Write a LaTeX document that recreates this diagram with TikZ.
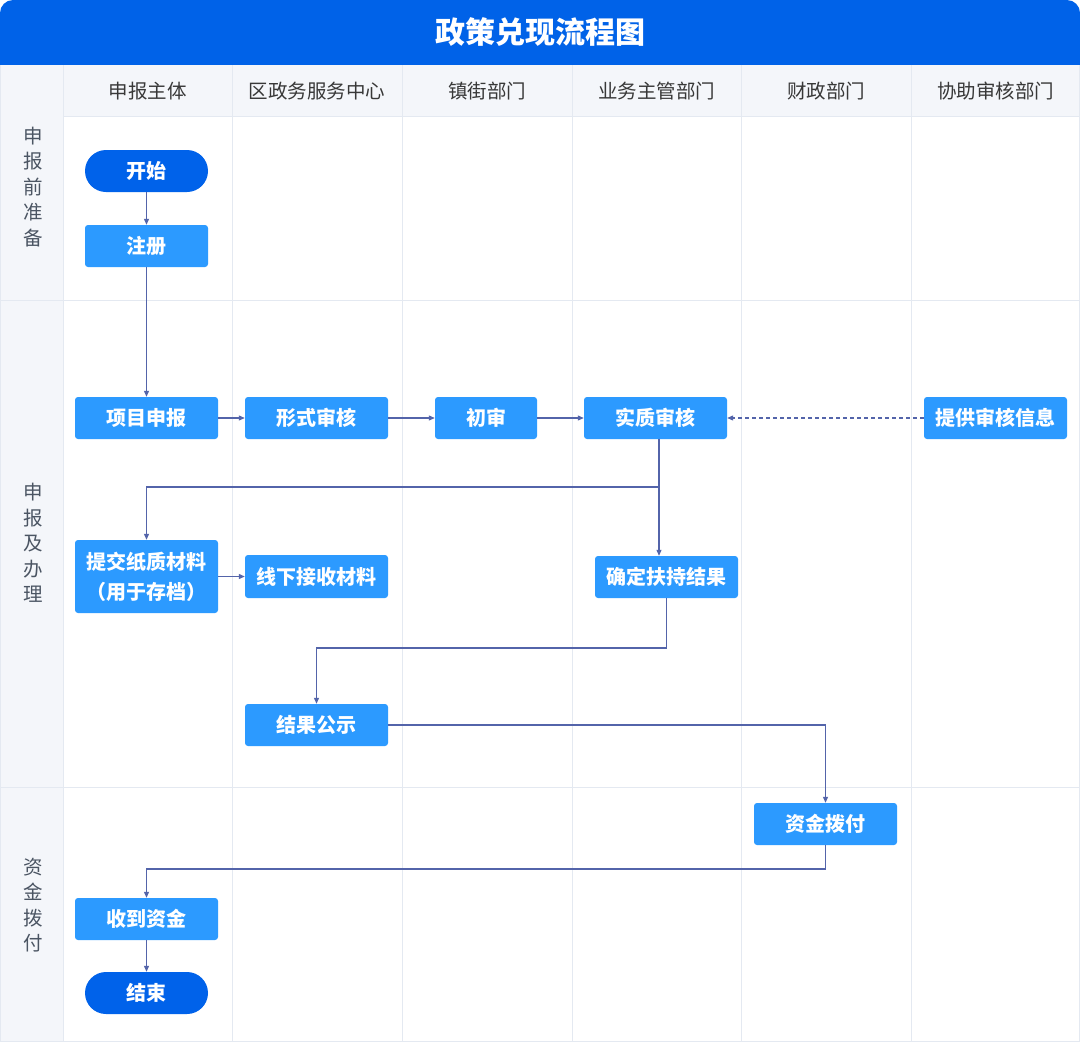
\documentclass[tikz,border=0pt]{standalone}
\usepackage{fontspec}
\newfontfamily\cjk{Noto Sans CJK SC}
\usetikzlibrary{arrows.meta}
\definecolor{titleblue}{HTML}{0062E8}
\definecolor{termblue}{HTML}{0062EA}
\definecolor{procblue}{HTML}{2C9AFF}
\definecolor{panelgray}{HTML}{F4F6FA}
\definecolor{gridline}{HTML}{E4E9F1}
\definecolor{headtext}{HTML}{383838}
\definecolor{rowtext}{HTML}{4B5563}
\definecolor{conncol}{HTML}{5364AA}
\tikzset{
  proc/.style={fill=procblue, rounded corners=3pt, text=white, font=\cjk\bfseries\fontsize{20}{26}\selectfont, minimum height=42pt, minimum width=143pt, inner sep=0pt, align=center},
  term/.style={fill=termblue, rounded corners=21pt, text=white, font=\cjk\bfseries\fontsize{20}{26}\selectfont, minimum height=42pt, minimum width=123pt, inner sep=0pt},
  headlbl/.style={text=headtext, font=\cjk\fontsize{19.5}{24}\selectfont, inner sep=0pt},
  rowlbl/.style={text=rowtext, font=\cjk\fontsize{19.5}{25.5}\selectfont, inner sep=0pt, align=center},
  conn/.style={draw=conncol, line width=1.1pt, -{Triangle[length=6pt,width=5pt]}},
  grid/.style={draw=gridline, line width=1pt}
}
\begin{document}
\begin{tikzpicture}[x=1pt,y=-1pt]
\useasboundingbox (0,0) rectangle (1080,1042);
% title bar
\fill[titleblue, rounded corners=13pt] (0,0) rectangle (1080,80);
\fill[titleblue] (0,40) rectangle (1080,65);
\node[text=white, font=\cjk\bfseries\fontsize{30}{36}\selectfont, inner sep=0pt] (title) at (540,32) {政策兑现流程图};
% backgrounds
\fill[white] (0,65) rectangle (1080,1042);
\fill[panelgray] (0,65) rectangle (63,1042);
\fill[panelgray] (0,65) rectangle (1080,116);
% grid
\foreach \gx in {63,232,402,572,741,911} {\draw[grid] (\gx,65) -- (\gx,1042);}
\draw[grid] (63,116) -- (1080,116);
\draw[grid] (0,300) -- (1080,300);
\draw[grid] (0,787) -- (1080,787);
\draw[grid] (0.5,65) -- (0.5,1041.5) -- (1079.5,1041.5) -- (1079.5,65);
% headers
\node[headlbl] (h1) at (147.5,91) {申报主体};
\node[headlbl] (h2) at (317,91) {区政务服务中心};
\node[headlbl] (h3) at (487,91) {镇街部门};
\node[headlbl] (h4) at (656.5,91) {业务主管部门};
\node[headlbl] (h5) at (826,91) {财政部门};
\node[headlbl] (h6) at (995.5,91) {协助审核部门};
% row labels
\node[rowlbl] (r1) at (33,187) {申\\报\\前\\准\\备};
\node[rowlbl] (r2) at (33,543) {申\\报\\及\\办\\理};
\node[rowlbl] (r3) at (33,905) {资\\金\\拨\\付};
% nodes
\node[term] (start) at (146.5,171) {开始};
\node[proc, minimum width=123pt] (reg) at (146.5,246) {注册};
\node[proc] (xmsb) at (146.5,418) {项目申报};
\node[proc] (xssh) at (316.5,418) {形式审核};
\node[proc, minimum width=102pt] (cs) at (486,418) {初审};
\node[proc] (szsh) at (655.5,418) {实质审核};
\node[proc] (tgxx) at (995.5,418) {提供审核信息};
\node[proc, minimum height=73pt, font=\cjk\bfseries\fontsize{20}{30}\selectfont] (tj) at (146.5,576.5) {提交纸质材料\\（用于存档）};
\node[proc, minimum height=43pt] (xxjs) at (316.5,576.5) {线下接收材料};
\node[proc] (qd) at (666.5,577) {确定扶持结果};
\node[proc] (jggs) at (316.5,725) {结果公示};
\node[proc] (zjbf) at (825.5,824) {资金拨付};
\node[proc] (sdzj) at (146.5,919) {收到资金};
\node[term] (end) at (146.5,993) {结束};
% bend coordinates
\coordinate (b1) at (659,487);
\coordinate (b2) at (316.5,648);
\coordinate (b3) at (825.5,869);
% connectors
\draw[conn] (start) -- (reg);
\draw[conn] (reg) -- (xmsb);
\draw[conn] (xmsb) -- (xssh);
\draw[conn] (xssh) -- (cs);
\draw[conn] (cs) -- (szsh);
\draw[conn, dash pattern=on 4pt off 3pt] (tgxx) -- (szsh);
\draw[conn] (szsh.south -| b1) -- (qd.north -| b1);
\draw[conn] (szsh.south -| b1) -- (b1) -| (tj.north);
\draw[conn] (tj) -- (xxjs);
\draw[conn] (qd.south) -- (qd.south |- b2) -| (jggs.north);
\draw[conn] (jggs.east) -| (zjbf.north);
\draw[conn] (zjbf.south) -- (b3) -| (sdzj.north);
\draw[conn] (sdzj) -- (end);
\end{tikzpicture}
\end{document}
